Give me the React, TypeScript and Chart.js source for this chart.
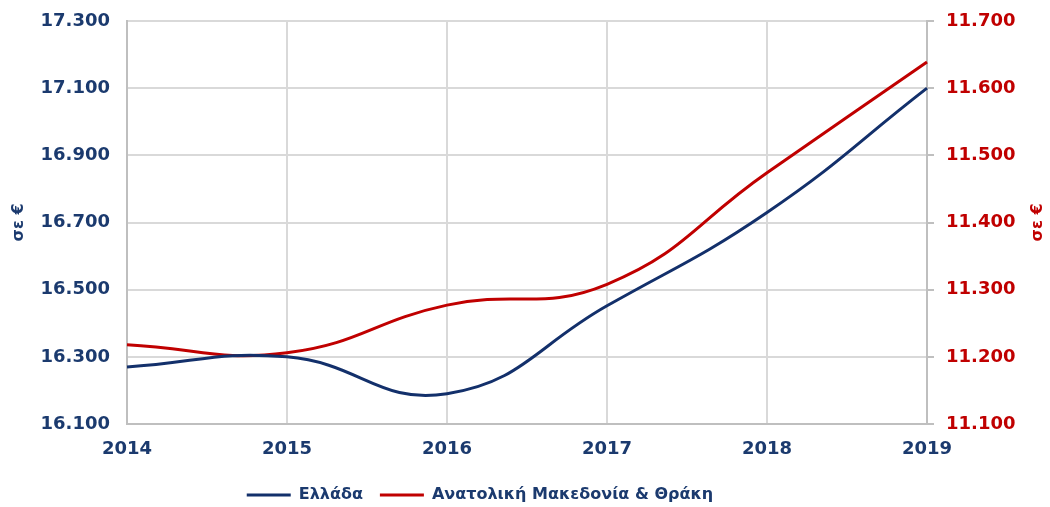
import React, { useEffect, useRef } from "react";
import { Chart, registerables } from "chart.js";

Chart.register(...registerables);

const years = ["2014", "2015", "2016", "2017", "2018", "2019"];
const greeceValues = [16270, 16300, 16190, 16452, 16730, 17100];
const emthValues = [11218, 11206, 11277, 11308, 11474, 11639];
const seriesNames = ["Ελλάδα", "Ανατολική Μακεδονία & Θράκη"];
const axisTitle = "σε €";

const NAVY = "#13306B";
const NAVY_TEXT = "#1B3A6E";
const RED = "#C00000";
const GRID = "#D9D9D9";
const AXIS = "#BFBFBF";
const FONT = "'DejaVu Sans', Verdana, sans-serif";

const fmt = (v: number) =>
  Math.round(v)
    .toString()
    .replace(/\B(?=(\d{3})+(?!\d))/g, ".");

const titlePlugin = {
  id: "sideTitles",
  afterLayout(chart: any) {
    const lg = chart.legend;
    if (lg) {
      lg.left -= 45;
      lg.right -= 45;
    }
  },
  afterDraw(chart: any) {
    const { ctx, chartArea } = chart;
    const cy = (chartArea.top + chartArea.bottom) / 2;
    ctx.save();
    ctx.font = `bold 16px ${FONT}`;
    ctx.textAlign = "center";
    ctx.textBaseline = "middle";
    [
      { x: 19, color: NAVY_TEXT },
      { x: 1038, color: RED },
    ].forEach((t) => {
      ctx.save();
      ctx.translate(t.x, cy);
      ctx.rotate(-Math.PI / 2);
      ctx.fillStyle = t.color;
      ctx.fillText(axisTitle, 0, 0);
      ctx.restore();
    });
    ctx.restore();
  },
};

const noPad = (s: any) => {
  s.paddingTop = 8;
  s.paddingBottom = 8;
};

export default function App() {
  const ref = useRef<HTMLCanvasElement>(null);
  useEffect(() => {
    document.body.style.margin = "0";
    const chart = new Chart(ref.current!, {
      type: "line",
      data: {
        labels: years,
        datasets: [
          {
            label: seriesNames[0],
            data: greeceValues,
            borderColor: NAVY,
            backgroundColor: NAVY,
            borderWidth: 3,
            pointRadius: 0,
            pointStyle: "line",
            tension: 0.45,
            yAxisID: "y",
          },
          {
            label: seriesNames[1],
            data: emthValues,
            borderColor: RED,
            backgroundColor: RED,
            borderWidth: 3,
            pointRadius: 0,
            pointStyle: "line",
            tension: 0.45,
            yAxisID: "y1",
          },
        ],
      },
      options: {
        responsive: false,
        animation: false,
        layout: { padding: { top: 21, left: 0, right: 0, bottom: -6 } },
        plugins: {
          tooltip: { enabled: false },
          legend: {
            position: "bottom",
            labels: {
              usePointStyle: true,
              pointStyleWidth: 44,
              boxHeight: 16,
              color: NAVY_TEXT,
              padding: 17,
              font: { family: FONT, size: 16, weight: "bold" },
            },
          },
        },
        scales: {
          x: {
            offset: false,
            grid: { color: GRID, lineWidth: 2, drawTicks: false },
            border: { color: AXIS, width: 2 },
            ticks: {
              color: NAVY_TEXT,
              padding: 15,
              maxRotation: 0,
              font: { family: FONT, size: 18, weight: "bold" },
            },
            afterFit: (s: any) => {
              s.height = 46;
            },
          },
          y: {
            position: "left",
            min: 16100,
            max: 17300,
            ticks: {
              stepSize: 200,
              color: NAVY_TEXT,
              padding: 17,
              font: { family: FONT, size: 18, weight: "bold" },
              callback: (v: any) => fmt(Number(v)),
            },
            grid: { color: GRID, lineWidth: 2, drawTicks: false },
            border: { color: AXIS, width: 2 },
            afterFit: (s: any) => {
              s.width = 127;
              noPad(s);
            },
          },
          y1: {
            position: "right",
            min: 11100,
            max: 11700,
            ticks: {
              stepSize: 100,
              color: RED,
              padding: 12,
              font: { family: FONT, size: 18, weight: "bold" },
              callback: (v: any) => fmt(Number(v)),
            },
            grid: {
              drawOnChartArea: false,
              drawTicks: true,
              tickLength: 7,
              tickColor: AXIS,
              lineWidth: 2,
            },
            border: { color: AXIS, width: 2 },
            afterFit: (s: any) => {
              s.width = 123;
              noPad(s);
            },
          },
        },
      },
      plugins: [titlePlugin],
    } as any);
    return () => chart.destroy();
  }, []);
  return (
    <div style={{ width: 1050, height: 507 }}>
      <canvas ref={ref} width={1050} height={507} />
    </div>
  );
}
